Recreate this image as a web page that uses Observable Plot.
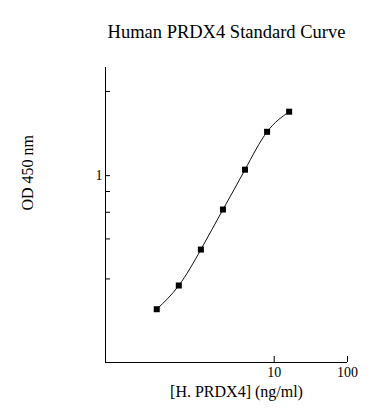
<!DOCTYPE html>
<html><head><meta charset="utf-8">
<script src="https://cdn.jsdelivr.net/npm/d3@7"></script>
<script src="https://cdn.jsdelivr.net/npm/@observablehq/plot@0.6"></script>
<style>body{margin:0;background:#fff;}</style>
</head><body><div id="chart"></div>
<script>
const concentration = [0.25, 0.5, 1, 2, 4, 8, 16];
const od = [0.137, 0.195, 0.333, 0.604, 1.093, 1.92, 2.59];
const xTicks = [10, 100];
const yTicks = [0.215, 0.39, 0.58, 0.79, 1, 3.5];
const yTickLabels = [1];
const xDomain = [0.05, 100];
const yDomain = [0.062, 5];
const title = "Human PRDX4 Standard Curve";
const xLabel = "[H. PRDX4] (ng/ml)";
const yLabel = "OD 450 nm";

const data = concentration.map((c, i) => ({c, od: od[i]}));
const W = 388, H = 420, mL = 105, mR = 41, mT = 67, mB = 58;
const fw = W - mL - mR, fh = H - mT - mB;

const chart = Plot.plot({
  width: W, height: H,
  marginLeft: mL, marginRight: mR, marginTop: mT, marginBottom: mB,
  x: {type: "log", domain: xDomain},
  y: {type: "log", domain: yDomain},
  style: {fontFamily: "'Liberation Serif', 'Times New Roman', serif", background: "white", color: "black"},
  marks: [
    Plot.ruleX([xDomain[0]], {x: d => d, stroke: "black", strokeWidth: 1}),
    Plot.ruleY([yDomain[0]], {y: d => d, stroke: "black", strokeWidth: 1}),
    Plot.tickX(xTicks, {x: d => d, insetTop: fh - 6, stroke: "black"}),
    Plot.tickY(yTicks, {y: d => d, insetRight: fw - 5, stroke: "black"}),
    Plot.axisX({ticks: xTicks, tickSize: 0, tickPadding: 5, fontSize: 14, label: null, tickFormat: d => String(d)}),
    Plot.axisY({ticks: yTickLabels, tickSize: 0, tickPadding: 3, fontSize: 14, label: null, tickFormat: d => String(d)}),
    Plot.line(data, {x: "c", y: "od", curve: "natural", stroke: "#111", strokeWidth: 1}),
    Plot.dot(data, {x: "c", y: "od", symbol: "square", r: 3.4, fill: "black", stroke: null}),
    Plot.text([title], {text: d => d, frameAnchor: "top", dy: -43, fontSize: 18.5, fill: "black"}),
    Plot.text([xLabel], {text: d => d, frameAnchor: "bottom", dx: 10, dy: 34.4, fontSize: 16, fill: "black"}),
    Plot.text([yLabel], {text: d => d, frameAnchor: "left", rotate: -90, dx: -77.5, dy: -4.5, fontSize: 16, fill: "black"})
  ]
});
document.getElementById("chart").appendChild(chart);
</script>
</body></html>
